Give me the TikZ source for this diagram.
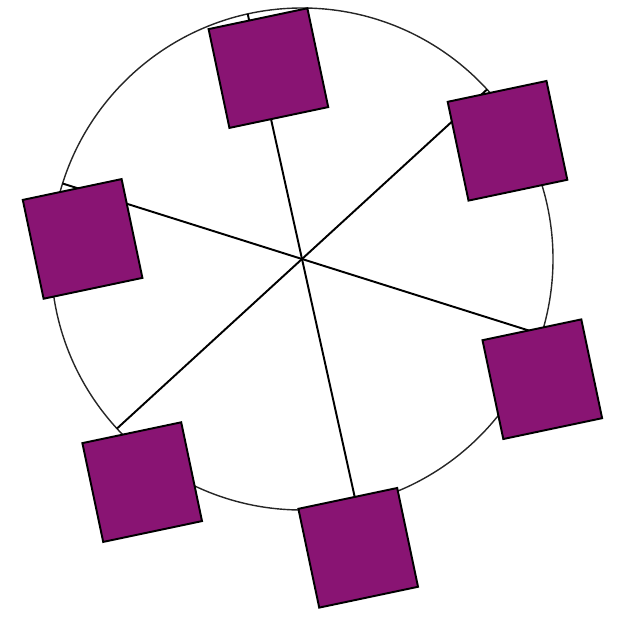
\documentclass[tikz,border=0pt]{standalone}
\usepackage{tikz}
\usetikzlibrary{positioning,calc}
\definecolor{CabinPurple}{RGB}{137,20,115}

\begin{document}
\begin{tikzpicture}[x=0.02cm, y=-0.02cm,
    rim/.style={draw=black!85, line width=0.8pt},
    spoke/.style={draw=black, line width=1.1pt},
    cabin/.style={draw=black, line width=1.1pt, fill=CabinPurple, minimum size=2.02cm, inner sep=0pt, rotate=11.9}
  ]
  \useasboundingbox (0,0) rectangle (621,621);
  % wheel
  \coordinate (hub) at (302,259);
  \draw[rim] (hub) circle[radius=251];
  \coordinate (p1) at (247.7,13.9);
  \coordinate (p2) at (487.1,89.4);
  \coordinate (p3) at (541.4,334.5);
  \coordinate (p4) at (356.3,504.1);
  \coordinate (p5) at (116.9,428.6);
  \coordinate (p6) at (62.6,183.5);
  \draw[spoke] (hub) -- (p1);
  \draw[spoke] (hub) -- (p2);
  \draw[spoke] (hub) -- (p3);
  \draw[spoke] (hub) -- (p4);
  \draw[spoke] (hub) -- (p5);
  \draw[spoke] (hub) -- (p6);
  % cabins
  \node[cabin] (c1) at (268.4,68.1) {};
  \node[cabin] (c2) at (507.5,140.8) {};
  \node[cabin] (c3) at (542.3,379.2) {};
  \node[cabin] (c4) at (358.2,547.8) {};
  \node[cabin] (c5) at (142.2,482.1) {};
  \node[cabin] (c6) at (82.6,238.9) {};
\end{tikzpicture}
\end{document}
